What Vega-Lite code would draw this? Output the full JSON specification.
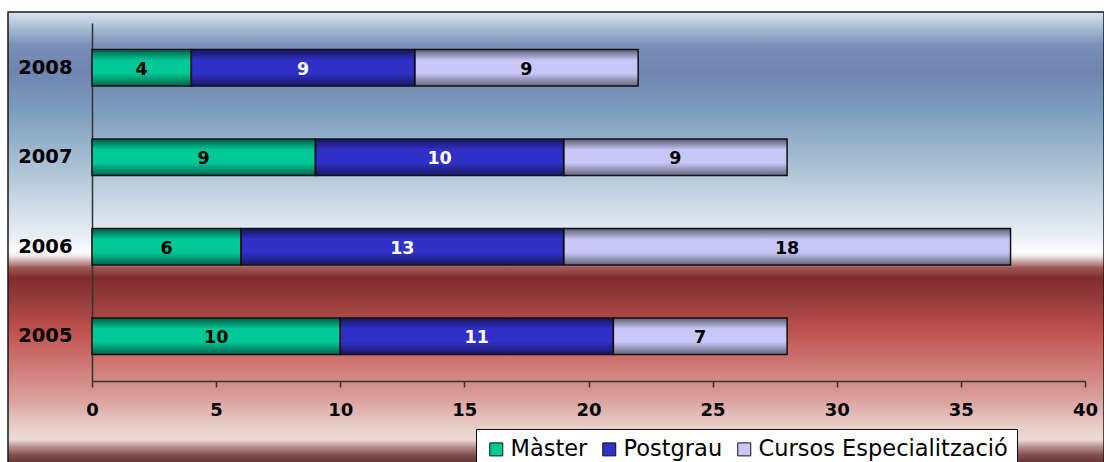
{
  "$schema": "https://vega.github.io/schema/vega-lite/v6.json",
  "autosize": "none",
  "width": 1096,
  "height": 452,
  "padding": {"left": 8, "top": 12, "right": 0, "bottom": 0},
  "background": "white",
  "view": {
    "stroke": "#1a1a1a",
    "strokeWidth": 1.5,
    "fill": {
      "gradient": "linear", "x1": 0, "y1": 0, "x2": 0, "y2": 1,
      "stops": [
        {"offset": 0, "color": "#d8e4ef"},
        {"offset": 0.035, "color": "#a9bed3"},
        {"offset": 0.073, "color": "#7a8fb7"},
        {"offset": 0.128, "color": "#6f84b0"},
        {"offset": 0.217, "color": "#7b9dbd"},
        {"offset": 0.327, "color": "#a5bdd2"},
        {"offset": 0.416, "color": "#c9d7e5"},
        {"offset": 0.493, "color": "#e7edf4"},
        {"offset": 0.531, "color": "#fbfcfd"},
        {"offset": 0.540, "color": "#f2e8e8"},
        {"offset": 0.553, "color": "#c8a0a0"},
        {"offset": 0.566, "color": "#9e5656"},
        {"offset": 0.588, "color": "#7e2c2c"},
        {"offset": 0.637, "color": "#953b39"},
        {"offset": 0.704, "color": "#bf514e"},
        {"offset": 0.781, "color": "#cd7874"},
        {"offset": 0.858, "color": "#dba29e"},
        {"offset": 0.925, "color": "#ead3ce"},
        {"offset": 0.947, "color": "#ecdad5"},
        {"offset": 0.962, "color": "#b89090"},
        {"offset": 0.980, "color": "#7f4f4f"},
        {"offset": 1, "color": "#603030"}
      ]
    }
  },
  "data": {
    "values": [
      {"year": "2008", "series": "Màster", "idx": 1, "value": 4},
      {"year": "2008", "series": "Postgrau", "idx": 2, "value": 9},
      {"year": "2008", "series": "Cursos Especialització", "idx": 3, "value": 9},
      {"year": "2007", "series": "Màster", "idx": 1, "value": 9},
      {"year": "2007", "series": "Postgrau", "idx": 2, "value": 10},
      {"year": "2007", "series": "Cursos Especialització", "idx": 3, "value": 9},
      {"year": "2006", "series": "Màster", "idx": 1, "value": 6},
      {"year": "2006", "series": "Postgrau", "idx": 2, "value": 13},
      {"year": "2006", "series": "Cursos Especialització", "idx": 3, "value": 18},
      {"year": "2005", "series": "Màster", "idx": 1, "value": 10},
      {"year": "2005", "series": "Postgrau", "idx": 2, "value": 11},
      {"year": "2005", "series": "Cursos Especialització", "idx": 3, "value": 7}
    ]
  },
  "transform": [
    {"stack": "value", "groupby": ["year"], "sort": [{"field": "idx", "order": "ascending"}], "as": ["v0", "v1"]}
  ],
  "encoding": {
    "y": {
      "field": "year", "type": "nominal", "sort": "descending",
      "scale": {"range": [11, 369], "paddingInner": 0.59, "paddingOuter": 0.295},
      "axis": {
        "title": null, "orient": "left", "offset": -84, "ticks": false,
        "labelPadding": 20, "labelFont": "DejaVu Sans", "labelFontSize": 19.5,
        "labelFontWeight": "bold", "labelColor": "#000",
        "domainColor": "#333", "domainWidth": 1.5
      }
    }
  },
  "layer": [
    {
      "mark": {"type": "bar", "strokeWidth": 0},
      "encoding": {
        "x": {
          "field": "v0", "type": "quantitative",
          "scale": {"domain": [0, 40], "range": [84, 1077], "nice": false, "zero": true},
          "axis": {
            "title": null, "orient": "bottom", "offset": -83, "values": [0, 5, 10, 15, 20, 25, 30, 35, 40],
            "grid": false, "tickSize": 6, "tickColor": "#333", "tickWidth": 1.5,
            "labelFlush": false, "labelOverlap": false,
            "labelPadding": 14, "labelFont": "DejaVu Sans", "labelFontSize": 18,
            "labelFontWeight": "bold", "labelColor": "#000",
            "domainColor": "#333", "domainWidth": 1.5
          }
        },
        "x2": {"field": "v1"},
        "color": {
          "field": "series", "type": "nominal",
          "scale": {
            "domain": ["Màster", "Postgrau", "Cursos Especialització"],
            "range": ["#00c896", "#3030c8", "#c8c8f8"]
          },
          "legend": {
            "title": null, "orient": "none", "legendX": 468, "legendY": 417,
            "direction": "horizontal", "symbolType": "square", "symbolSize": 169,
            "symbolStrokeColor": "#111", "symbolStrokeWidth": 1, "symbolOpacity": 1,
            "labelFont": "DejaVu Sans", "labelFontSize": 22.5, "labelColor": "#000",
            "labelOffset": 3, "columnPadding": 10, "padding": 9,
            "fillColor": "white", "strokeColor": "#111",
            "cornerRadius": 0, "labelLimit": 400
          }
        }
      }
    },
    {
      "mark": {
        "type": "bar", "stroke": "#111", "strokeWidth": 1.5,
        "fill": {
          "gradient": "linear", "x1": 0, "y1": 0, "x2": 0, "y2": 1,
          "stops": [
            {"offset": 0, "color": "rgba(0,0,0,0.55)"},
            {"offset": 0.3, "color": "rgba(0,0,0,0)"},
            {"offset": 0.65, "color": "rgba(0,0,0,0)"},
            {"offset": 1, "color": "rgba(0,0,0,0.5)"}
          ]
        }
      },
      "encoding": {
        "x": {"field": "v0", "type": "quantitative"},
        "x2": {"field": "v1"}
      }
    },
    {
      "transform": [{"fold": ["v0", "v1"], "as": ["edge", "pos"]}],
      "mark": {"type": "text", "font": "DejaVu Sans", "fontSize": 17.5, "fontWeight": "bold", "baseline": "middle", "align": "center", "dy": 2},
      "encoding": {
        "x": {"field": "pos", "type": "quantitative", "aggregate": "mean"},
        "detail": {"field": "series"},
        "text": {"field": "value", "type": "quantitative", "aggregate": "max"},
        "color": {"condition": {"test": "datum.series === 'Postgrau'", "value": "white"}, "value": "black"}
      }
    }
  ]
}
